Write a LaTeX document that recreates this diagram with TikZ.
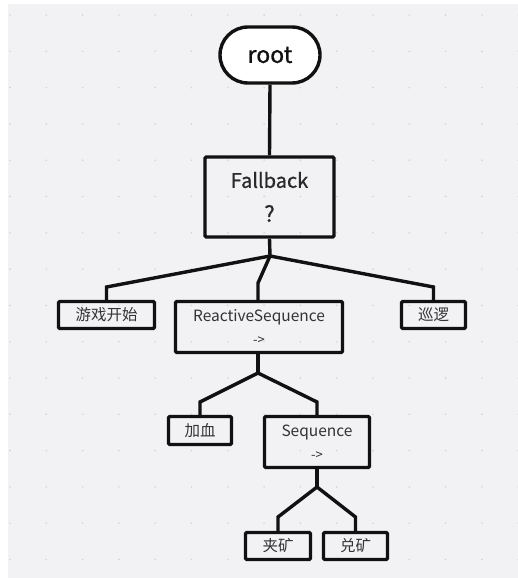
\documentclass[tikz,border=0pt]{standalone}
\usepackage{fontspec}
\newfontfamily\cjk{Noto Sans CJK SC}
\newfontfamily\cjkmed[FakeBold=0.9]{Noto Sans CJK SC}
\definecolor{canvas}{HTML}{F2F2F4}
\definecolor{griddot}{HTML}{D4D4D8}
\definecolor{ink}{HTML}{111111}
\definecolor{txt}{HTML}{333333}
\begin{document}
\begin{tikzpicture}[x=1pt,y=-1pt,
  edge/.style={draw=ink,line width=3.4pt,line join=miter},
  treebox/.style={draw=ink,line width=3.4pt,rounded corners=1.2pt,inner sep=0pt,
    align=center,text=txt,font=\cjk\fontsize{15.5}{23}\selectfont},
  rootbox/.style={draw=ink,fill=white,line width=3.4pt,rounded corners=28pt,
    minimum width=100pt,minimum height=56pt,inner sep=0pt,text=ink,
    font=\cjkmed\fontsize{23}{26}\selectfont}]
  % canvas and dotted grid
  \useasboundingbox (0,0) rectangle (518,578);
  \fill[white] (0,0) rectangle (518,578);
  \fill[canvas] (8,4) rectangle (518,578);
  \foreach \i in {0,...,14} {
    \foreach \j in {0,...,15} {
      \fill[griddot] (10+36.3*\i,15+36.3*\j) circle (0.9pt);
    }
  }

  % nodes
  \node[rootbox] (root) at (270,55) {root};
  \node[treebox,minimum width=129pt,minimum height=80pt,text=ink!90!white,
    font=\cjkmed\fontsize{20}{34}\selectfont] (fb) at (269.5,197)
    {Fallback\\{\fontsize{22}{22}\selectfont ?}};
  \node[treebox,minimum width=96pt,minimum height=27pt] (start) at (106.5,315) {游戏开始};
  \node[treebox,minimum width=167pt,minimum height=51pt] (rseq) at (259,327)
    {ReactiveSequence\\{\fontsize{13}{13}\selectfont ->}};
  \node[treebox,minimum width=64pt,minimum height=27pt] (patrol) at (433.5,315) {巡逻};
  \node[treebox,minimum width=63pt,minimum height=28pt] (heal) at (200,430.5) {加血};
  \node[treebox,minimum width=105pt,minimum height=51pt] (seq) at (317,442)
    {Sequence\\{\fontsize{13}{13}\selectfont ->}};
  \node[treebox,minimum width=65pt,minimum height=27pt] (grab) at (278,546) {夹矿};
  \node[treebox,minimum width=64pt,minimum height=27pt] (trade) at (355.5,546) {兑矿};

  % junctions and bends
  \coordinate (j1) at (270,256);
  \coordinate (b11) at (106.5,287);
  \coordinate (b12) at (258,283);
  \coordinate (b13) at (433.5,287);
  \coordinate (j2) at (258,373);
  \coordinate (b21) at (200,402);
  \coordinate (b22) at (317,402);
  \coordinate (j3) at (317,487);
  \coordinate (b31) at (278,517);
  \coordinate (b32) at (355.5,517);

  % connectors
  \draw[edge] (root.south) -- (fb.north);
  \draw[edge] (fb.south) -- (j1);
  \draw[edge] (j1) -- (b11) -- (start.north);
  \draw[edge] (j1) -- (b12) -- (b12 |- rseq.north);
  \draw[edge] (j1) -- (b13) -- (patrol.north);
  \draw[edge] (rseq.south -| j2) -- (j2);
  \draw[edge] (j2) -- (b21) -- (heal.north);
  \draw[edge] (j2) -- (b22) -- (seq.north);
  \draw[edge] (seq.south) -- (j3);
  \draw[edge] (j3) -- (b31) -- (grab.north);
  \draw[edge] (j3) -- (b32) -- (trade.north);
\end{tikzpicture}
\end{document}
